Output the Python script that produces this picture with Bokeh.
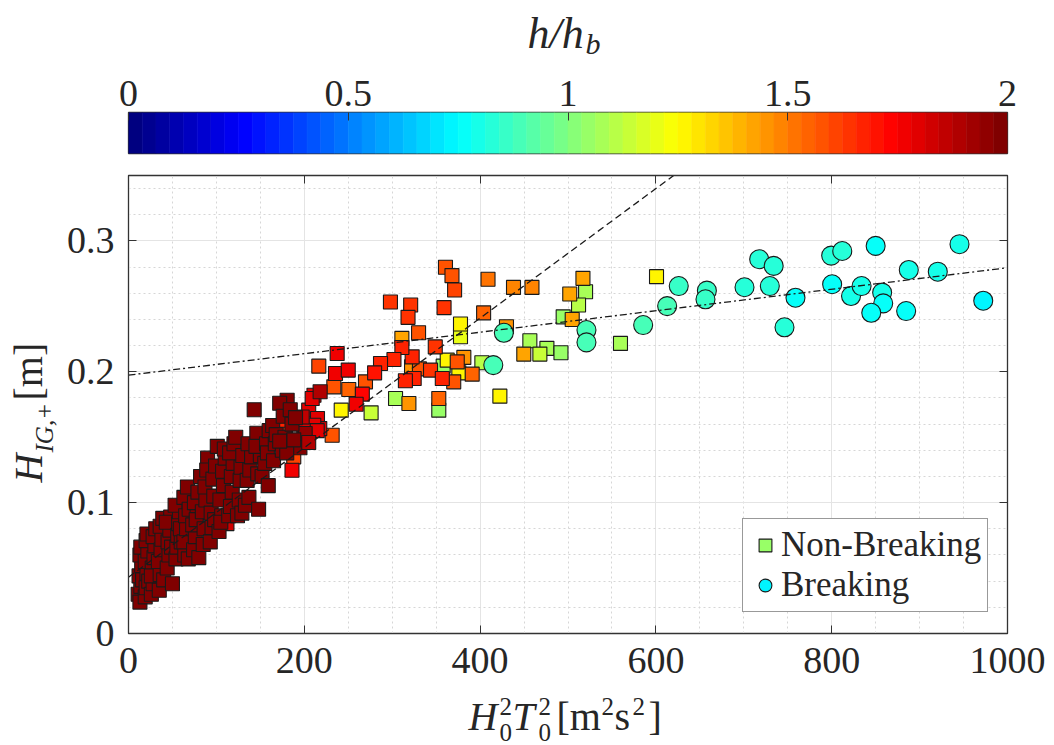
import numpy as np
from bokeh.plotting import figure
from bokeh.models import (ColumnDataSource, LinearColorMapper, Label, Legend, LegendItem,
                          LinearAxis, FixedTicker, Range1d, CustomJSTickFormatter)
from bokeh.transform import transform
from bokeh.layouts import column, row
from bokeh.embed import file_html
from bokeh.resources import INLINE

# ---------------- data ----------------
# Non-breaking points: H0^2 T0^2, H_IG+, h/hb   (first point sets legend colour)
nb_x = [494.5, 358, 353, 303.8, 456.6, 476, 492, 520, 512, 559.7, 402,
        276, 468, 377.7, 242, 377.7, 362.6, 375.8, 422.5, 600.7,
        311, 319, 322, 381.5, 430, 449.7, 504.8, 502, 517, 438, 459,
        409, 404, 391, 353, 250.6, 370, 374, 269.6, 360.6, 368, 371, 330, 331,
        233.6, 231.7, 216.5, 188, 298, 321, 318, 359, 349, 343.6, 357, 325,
        322.7, 315, 311, 302, 286.7, 280, 266, 178.6, 176.7,
        237.4, 235.5, 250, 259, 211, 205, 215, 217.6, 210.8, 199.5, 214.7,
        186, 112, 197.6, 209, 218, 201, 180.5, 195, 205,
        # dense cluster (dark red)
        11, 13, 14, 12, 15, 13, 14, 16,
        19, 20, 21, 19, 22, 20, 21, 23,
        26, 28, 27, 29, 30, 28, 31, 26,
        35, 36, 34, 37, 38, 36, 39, 40,
        44, 46, 45, 47, 48, 50, 49, 43,
        54, 55, 56, 57, 58, 53, 60, 59,
        64, 63, 66, 65, 63, 67, 69, 68,
        74, 76, 73, 78, 75, 80, 79, 77,
        82, 85, 86, 84, 88, 87, 90, 89,
        93, 95, 94, 97, 96, 99, 101, 98,
        104, 103, 106, 108, 107, 110, 109, 105,
        114, 116, 118, 117, 119, 115, 120,
        122, 124, 126, 127, 128, 130, 129,
        133, 135, 137, 138, 140, 136,
        143, 146, 148, 147, 150, 145,
        152, 155, 157, 159, 160, 158,
        165, 164, 167, 168,
        172, 175, 178, 180, 176,
        184, 186, 188, 190, 172]
nb_y = [0.242, 0.2043, 0.1707, 0.1796, 0.2237, 0.2179, 0.2145, 0.2612, 0.251, 0.2217, 0.2069,
        0.1686, 0.2135, 0.2268, 0.1707, 0.2365, 0.2089, 0.1992, 0.1814, 0.2727,
        0.2255, 0.1758, 0.2038, 0.211, 0.2344, 0.2135, 0.240, 0.2594, 0.2714, 0.2645, 0.2645,
        0.2707, 0.245, 0.1982, 0.1796, 0.1865, 0.1923, 0.2076, 0.1923, 0.2799, 0.2735, 0.2625, 0.2298, 0.2022,
        0.1885, 0.1515, 0.2043, 0.135, 0.2533, 0.251, 0.2416, 0.249, 0.219, 0.2013, 0.1949, 0.1949,
        0.2114, 0.1931, 0.2186, 0.2094, 0.2063, 0.1992, 0.1829, 0.155, 0.163,
        0.214, 0.1987, 0.2013, 0.1752, 0.1821, 0.1707, 0.1643, 0.1566, 0.1592, 0.155, 0.155,
        0.1247, 0.084, 0.1655, 0.1796, 0.1847, 0.1528, 0.1783, 0.142, 0.146,
        0.030, 0.024, 0.036, 0.044, 0.052, 0.060, 0.066, 0.041,
        0.028, 0.035, 0.046, 0.055, 0.063, 0.071, 0.076, 0.040,
        0.030, 0.038, 0.050, 0.058, 0.067, 0.074, 0.080, 0.044,
        0.033, 0.045, 0.055, 0.064, 0.072, 0.082, 0.088, 0.041,
        0.050, 0.060, 0.070, 0.079, 0.089, 0.038, 0.066, 0.085,
        0.057, 0.066, 0.075, 0.084, 0.093, 0.098, 0.070, 0.080,
        0.060, 0.070, 0.080, 0.090, 0.104, 0.112, 0.095, 0.057,
        0.064, 0.074, 0.083, 0.092, 0.100, 0.058, 0.108, 0.087,
        0.120, 0.068, 0.080, 0.093, 0.102, 0.112, 0.134, 0.125,
        0.070, 0.081, 0.092, 0.105, 0.118, 0.128, 0.143, 0.087,
        0.102, 0.078, 0.090, 0.113, 0.124, 0.134, 0.141, 0.085,
        0.090, 0.097, 0.108, 0.120, 0.130, 0.138, 0.145,
        0.150, 0.090, 0.102, 0.117, 0.127, 0.136, 0.092,
        0.098, 0.117, 0.104, 0.125, 0.135, 0.145,
        0.171, 0.153, 0.095, 0.122, 0.136, 0.143,
        0.120, 0.130, 0.145, 0.113, 0.155, 0.138,
        0.132, 0.159, 0.145, 0.152,
        0.176, 0.140, 0.150, 0.138, 0.166,
        0.171, 0.160, 0.148, 0.165, 0.147]
nb_r = [1.05, 1.05, 1.06, 1.08, 1.08, 1.08, 1.05, 1.07, 1.1, 1.07, 1.12,
        1.15, 1.15, 1.2, 1.27, 1.27, 1.27, 1.27, 1.27, 1.28,
        1.42, 1.45, 1.45, 1.45, 1.45, 1.42, 1.42, 1.42, 1.42, 1.48, 1.48,
        1.53, 1.55, 1.55, 1.55, 1.55, 1.57, 1.57, 1.57, 1.57, 1.57, 1.6, 1.58, 1.58,
        1.58, 1.58, 1.62, 1.62, 1.65, 1.65, 1.65, 1.65, 1.65, 1.65, 1.66, 1.66,
        1.66, 1.68, 1.68, 1.67, 1.68, 1.7, 1.72, 1.65, 1.66,
        1.78, 1.78, 1.78, 1.78, 1.8, 1.8, 1.8, 1.8, 1.8, 1.8, 1.8,
        1.78, 1.82, 1.85, 1.8, 1.9, 1.95, 2.0, 2.0, 1.9] + [2.0] * 146

# Breaking points (first point sets legend colour)
b_x = [972.4, 427, 415, 521, 521, 585.5, 612.8, 626, 658, 656.4, 700.8, 729.6,
       717.5, 734, 746.3, 758.8, 799.4, 812, 800.5, 822, 834, 850, 857.4,
       858.6, 845, 887.7, 884.7, 920.7, 945.4]
b_y = [0.2543, 0.2298, 0.2051, 0.2319, 0.2225, 0.2357, 0.2502, 0.2655, 0.262, 0.2554, 0.2646, 0.2655,
       0.286, 0.2809, 0.234, 0.2566, 0.2888, 0.2923, 0.2669, 0.2579, 0.2655, 0.2962, 0.2605,
       0.2523, 0.2451, 0.2778, 0.2464, 0.2765, 0.2975]
b_r = [0.74, 0.9, 0.9, 0.88, 0.88, 0.88, 0.9, 0.85, 0.85, 0.85, 0.84, 0.84,
       0.83, 0.83, 0.82, 0.77, 0.82, 0.82, 0.77, 0.8, 0.8, 0.78, 0.8,
       0.78, 0.77, 0.8, 0.76, 0.79, 0.8]

# fitted lines: intercept, slope
fit_dashed = (0.043, 0.000495)
fit_dashdot = (0.1974, 0.0000821)

x_ticks = [0, 200, 400, 600, 800, 1000]
y_ticks = [0, 0.1, 0.2, 0.3]
cb_ticks = [0, 0.5, 1, 1.5, 2]
x_range = (0, 1000)
y_range = (0, 0.35)
cb_range = (0, 2)

# ---------------- style / layout ----------------
FONT = "Liberation Serif"
TC = "#262626"
AX = "#333333"
W = 1054
FL, FR = 128, 1007          # frame left / right (page px)
FT, FB = 175, 633           # main frame top / bottom (page px)
TOP_H = 60                  # title strip
CB_H = 160 - TOP_H          # colour-bar figure
YL_W = 60                   # y-label strip
MAIN_H = 533                # main figure height
XL_H = 745 - 160 - MAIN_H   # x-label strip


def jet(n):
    out = []
    for i in range(n):
        t = i / (n - 1)
        r = min(max(1.5 - abs(4 * t - 3), 0), 1)
        g = min(max(1.5 - abs(4 * t - 2), 0), 1)
        b = min(max(1.5 - abs(4 * t - 1), 0), 1)
        out.append("#%02x%02x%02x" % (round(r * 255), round(g * 255), round(b * 255)))
    return out


palette = jet(64)
mapper = LinearColorMapper(palette=palette, low=cb_range[0], high=cb_range[1])
fmt = CustomJSTickFormatter(code="return String(Math.round(tick*1000)/1000);")


def text_strip(w, h, xr, yr, bl=0, br=0, bt=0, bb=0):
    """Blank figure whose data coordinates equal page pixels (for label text)."""
    f = figure(width=w, height=h, x_range=Range1d(*xr), y_range=Range1d(*yr),
               x_axis_location=None, y_axis_location=None, toolbar_location=None,
               output_backend="svg", min_border_left=bl, min_border_right=br,
               min_border_top=bt, min_border_bottom=bb)
    f.outline_line_color = None
    f.grid.visible = False
    return f


def lab(text, px, base, size, style="normal", angle=0.0):
    # anchor at the text middle; 'base' is where the alphabetic baseline should lie
    if angle == 0.0:
        x, y = px, base - 0.3 * size
    else:
        x, y = base - 0.3 * size, px
    return Label(x=x, y=y, text=text, text_font=FONT, text_font_size=f"{size}px",
                 text_font_style=style, text_color=TC, text_align="left",
                 text_baseline="middle", angle=angle)


# ---------------- title strip (h/h_b) ----------------
tfig = text_strip(W, TOP_H, (FL, FR), (TOP_H, 0), bl=FL, br=W - FR)
tfig.add_layout(lab("h/h", 527, 46, 44, "italic"))
tfig.add_layout(lab("b", 585, 52, 30, "italic"))

# ---------------- colour bar ----------------
cb = figure(width=W, height=CB_H, x_range=Range1d(*cb_range), y_range=Range1d(0, 1),
            x_axis_location="above", y_axis_location=None, toolbar_location=None,
            output_backend="svg", min_border_left=FL, min_border_right=W - FR,
            min_border_top=CB_H - 41 - 7, min_border_bottom=7)
edges = np.linspace(cb_range[0], cb_range[1], len(palette) + 1)
cb.quad(left=edges[:-1], right=edges[1:], bottom=0, top=1, fill_color=palette,
        line_color=palette, line_width=0.6)
cb.grid.visible = False
cb.outline_line_color = AX
cb.outline_line_width = 1.3
ax = cb.xaxis[0]
ax.ticker = FixedTicker(ticks=cb_ticks)
ax.formatter = fmt
ax.major_tick_in = 8
ax.major_tick_out = 0
ax.minor_tick_in = 0
ax.minor_tick_out = 0
ax.axis_line_color = None
ax.major_tick_line_color = AX
ax.major_label_standoff = 7
ax.major_label_text_font = FONT
ax.major_label_text_font_size = "38px"
ax.major_label_text_color = TC

# ---------------- main figure ----------------
p = figure(width=W - YL_W, height=MAIN_H, x_range=Range1d(*x_range), y_range=Range1d(*y_range),
           toolbar_location=None, output_backend="svg",
           min_border_left=FL - YL_W, min_border_right=W - FR, min_border_top=FT - 160,
           min_border_bottom=160 + MAIN_H - FB)
p.outline_line_color = AX
p.outline_line_width = 1.3

xa = p.xaxis[0]
ya = p.yaxis[0]
xa.ticker = FixedTicker(ticks=x_ticks, minor_ticks=list(np.arange(0, 1001, 50)))
ya.ticker = FixedTicker(ticks=y_ticks, minor_ticks=[round(v, 2) for v in np.arange(0, 0.351, 0.02)])
for a in (xa, ya):
    a.formatter = fmt
    a.major_tick_in = 8
    a.major_tick_out = 0
    a.minor_tick_in = 0
    a.minor_tick_out = 0
    a.axis_line_color = AX
    a.major_tick_line_color = AX
    a.major_label_standoff = 14
    a.major_label_text_font = FONT
    a.major_label_text_font_size = "38px"
    a.major_label_text_color = TC

p.xgrid.grid_line_color = "#e4e4e4"
p.ygrid.grid_line_color = "#e4e4e4"
p.xgrid.minor_grid_line_color = "#d6d6d6"
p.ygrid.minor_grid_line_color = "#d6d6d6"
p.xgrid.minor_grid_line_dash = "2 3"
p.ygrid.minor_grid_line_dash = "2 3"

blank = CustomJSTickFormatter(code="return '';")
for loc, tk in (("above", x_ticks), ("right", y_ticks)):
    extra = LinearAxis(ticker=FixedTicker(ticks=tk), formatter=blank,
                       major_label_text_color=None, major_label_standoff=0,
                       major_tick_in=8, major_tick_out=0, minor_tick_in=0, minor_tick_out=0,
                       axis_line_color=AX, major_tick_line_color=AX)
    p.add_layout(extra, loc)

src_nb = ColumnDataSource(dict(x=nb_x, y=nb_y, r=nb_r))
src_b = ColumnDataSource(dict(x=b_x, y=b_y, r=b_r))
r_nb = p.scatter("x", "y", source=src_nb, marker="square", size=14,
                 fill_color=transform("r", mapper), line_color="#1a1a1a", line_width=1.1)
r_b = p.scatter("x", "y", source=src_b, marker="circle", size=19,
                fill_color=transform("r", mapper), line_color="#1a1a1a", line_width=1.1)

lx = np.array(x_range, dtype=float)
p.line(lx, fit_dashed[0] + fit_dashed[1] * lx, line_color="#1a1a1a", line_width=1.3,
       line_dash="7 4")
p.line(lx, fit_dashdot[0] + fit_dashdot[1] * lx, line_color="#1a1a1a", line_width=1.3,
       line_dash="7 3 2 3")

legend = Legend(items=[LegendItem(label="Non-Breaking", renderers=[r_nb]),
                       LegendItem(label="Breaking", renderers=[r_b])],
                location=(614, 21), orientation="vertical",
                border_line_color=AX, border_line_width=1, background_fill_color="white",
                background_fill_alpha=1, padding=6, spacing=0, margin=0,
                glyph_width=32, glyph_height=38, label_height=38, label_standoff=0,
                label_text_font=FONT, label_text_font_size="35px", label_text_color=TC,
                label_text_baseline="middle")
p.add_layout(legend)

# ---------------- y-axis label strip  H_{IG,+}[m] ----------------
yfig = text_strip(YL_W, MAIN_H, (0, YL_W), (FB, FT), bt=FT - 160, bb=160 + MAIN_H - FB)
ang = np.pi / 2
yfig.add_layout(lab("H", 482, 40, 40, "italic", ang))
yfig.add_layout(lab("IG,+", 452, 51, 25, "italic", ang))
yfig.add_layout(lab("[m]", 400, 40, 40, "normal", ang))

# ---------------- x-axis label strip  H0^2 T0^2 [m^2 s^2] ----------------
XL_Y0 = 160 + MAIN_H
xfig = text_strip(W, XL_H, (FL, FR), (745, XL_Y0), bl=FL, br=W - FR)
for t, px, py, s, st in [("H", 468, 728, 40, "italic"), ("0", 499, 739, 25, "normal"),
                         ("2", 499, 713, 25, "normal"), ("T", 512, 728, 40, "italic"),
                         ("0", 538, 739, 25, "normal"), ("2", 538, 713, 25, "normal"),
                         ("[m", 556, 728, 40, "normal"), ("2", 601, 713, 25, "normal"),
                         ("s", 614, 728, 40, "normal"), ("2", 632, 713, 25, "normal"),
                         ("]", 648, 728, 40, "normal")]:
    xfig.add_layout(lab(t, px, py, s, st))

layout = column(tfig, cb, row(yfig, p, spacing=0), xfig, spacing=0)
open("out.html", "w").write(file_html(layout, INLINE))
